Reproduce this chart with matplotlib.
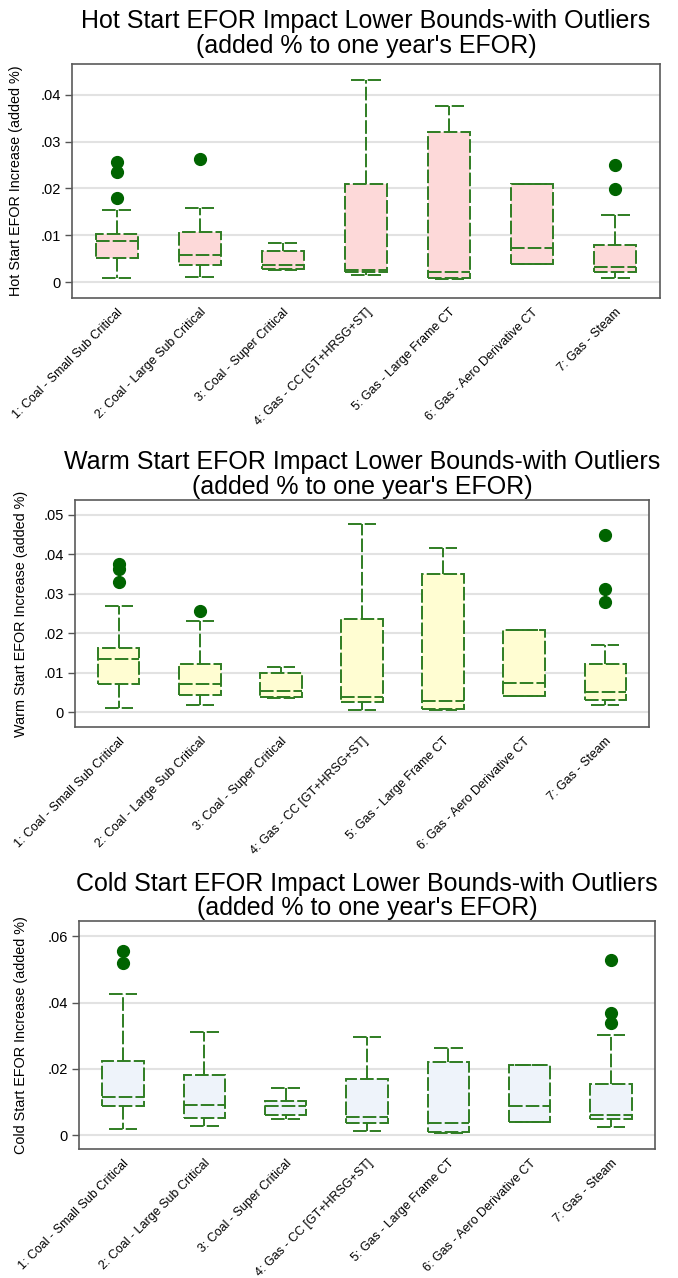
import matplotlib
matplotlib.use("Agg")
import matplotlib.pyplot as plt

plt.rcParams['font.family'] = ['Liberation Sans', 'DejaVu Sans']

categories = [
    "1: Coal - Small Sub Critical",
    "2: Coal - Large Sub Critical",
    "3: Coal - Super Critical",
    "4: Gas - CC [GT+HRSG+ST]",
    "5: Gas - Large Frame CT",
    "6: Gas - Aero Derivative CT",
    "7: Gas - Steam",
]

# hot start
hot_lo = [0.0008, 0.0010, 0.0026, 0.0016, 0.0006, 0.0039, 0.0008]
hot_q1 = [0.0051, 0.0036, 0.0029, 0.0021, 0.0009, 0.0039, 0.0022]
hot_med = [0.0087, 0.0058, 0.0037, 0.0026, 0.0021, 0.0072, 0.0033]
hot_q3 = [0.0102, 0.0107, 0.0067, 0.0210, 0.0320, 0.0209, 0.0079]
hot_hi = [0.0154, 0.0159, 0.0083, 0.0432, 0.0377, 0.0209, 0.0144]
hot_out = [[0.0256, 0.0236, 0.0179], [0.0263], [], [], [], [], [0.0251, 0.0198]]

# warm start
warm_lo = [0.0009, 0.0017, 0.0036, 0.0005, 0.0006, 0.0040, 0.0019]
warm_q1 = [0.0070, 0.0043, 0.0039, 0.0025, 0.0008, 0.0040, 0.0031]
warm_med = [0.0135, 0.0072, 0.0054, 0.0039, 0.0028, 0.0073, 0.0051]
warm_q3 = [0.0162, 0.0122, 0.0098, 0.0236, 0.0351, 0.0208, 0.0121]
warm_hi = [0.0269, 0.0231, 0.0113, 0.0476, 0.0416, 0.0208, 0.0171]
warm_out = [[0.0375, 0.0362, 0.0329], [0.0256], [], [], [], [], [0.0449, 0.0312, 0.0279]]

# cold start
cold_lo = [0.0017, 0.0027, 0.0049, 0.0012, 0.0006, 0.0039, 0.0024]
cold_q1 = [0.0088, 0.0052, 0.0061, 0.0035, 0.0008, 0.0039, 0.0048]
cold_med = [0.0115, 0.0090, 0.0087, 0.0056, 0.0037, 0.0088, 0.0062]
cold_q3 = [0.0224, 0.0182, 0.0104, 0.0168, 0.0222, 0.0211, 0.0155]
cold_hi = [0.0425, 0.0311, 0.0141, 0.0296, 0.0263, 0.0211, 0.0301]
cold_out = [[0.0556, 0.0518], [], [], [], [], [], [0.0528, 0.0367, 0.0339]]

hot_ticks = [0, 0.01, 0.02, 0.03, 0.04]
hot_ticklabels = ["0", ".01", ".02", ".03", ".04"]
warm_ticks = [0, 0.01, 0.02, 0.03, 0.04, 0.05]
warm_ticklabels = ["0", ".01", ".02", ".03", ".04", ".05"]
cold_ticks = [0, 0.02, 0.04, 0.06]
cold_ticklabels = ["0", ".02", ".04", ".06"]

line_col = "#2f7d23"
dot_col = "#006400"
dash = (0, (7, 1.6))

W, H = 678, 1278


def make_stats(lo, q1, med, q3, hi, out):
    stats = []
    for i in range(len(lo)):
        stats.append(dict(whislo=lo[i], q1=q1[i], med=med[i], q3=q3[i],
                          whishi=hi[i], fliers=out[i]))
    return stats


def draw_panel(box_px, stats, fill, ticks, ticklabels, ylim, ylabel, lab_x,
               title, title_y):
    l, r, t, b = box_px
    ax = fig.add_axes([l / W, 1 - b / H, (r - l) / W, (b - t) / H])
    pos = list(range(1, len(stats) + 1))
    ax.bxp(stats, positions=pos, widths=0.51, capwidths=0.35,
           patch_artist=True, showfliers=True,
           boxprops=dict(facecolor=fill, edgecolor=line_col, lw=1.4, linestyle=dash),
           whiskerprops=dict(color=line_col, lw=1.4, linestyle=dash),
           capprops=dict(color=line_col, lw=1.4, linestyle=dash),
           medianprops=dict(color=line_col, lw=1.4, linestyle=dash),
           flierprops=dict(marker='o', markerfacecolor=dot_col,
                           markeredgecolor=dot_col, markersize=8.5))
    ax.set_xlim(0.46, 7.54)
    ax.set_ylim(*ylim)
    ax.set_yticks(ticks)
    ax.set_yticklabels(ticklabels, fontsize=10.5)
    ax.set_xticks(pos)
    ax.set_xticklabels(categories, rotation=45, ha='right',
                       rotation_mode='anchor', fontsize=9)
    ax.tick_params(axis='x', length=0, pad=6)
    ax.tick_params(axis='y', length=5, width=1, color='#555555', pad=3)
    ax.yaxis.grid(True, color='#e2e2e2', lw=1.5)
    ax.set_axisbelow(True)
    for sp in ax.spines.values():
        sp.set_color('#5a5a5a')
        sp.set_linewidth(1.2)
    ax.set_ylabel(ylabel, fontsize=10.4)
    ax.yaxis.set_label_coords((lab_x - l) / (r - l), 0.5)
    # two-line heading centred over the plot region
    cx = (l + r) / 2 / W
    fig.text(cx, 1 - title_y[0] / H, title, fontsize=18,
             ha='center', va='center')
    fig.text(cx, 1 - title_y[1] / H, "(added % to one year's EFOR)",
             fontsize=18, ha='center', va='center')
    return ax


fig = plt.figure(figsize=(W / 100, H / 100), dpi=100)

draw_panel((72, 660, 64, 298),
           make_stats(hot_lo, hot_q1, hot_med, hot_q3, hot_hi, hot_out),
           "#fdd9d9", hot_ticks, hot_ticklabels, (-0.0034, 0.0466),
           "Hot Start EFOR Increase (added %)", 23,
           "Hot Start EFOR Impact Lower Bounds-with Outliers", (21, 46))

draw_panel((75, 649, 500, 727),
           make_stats(warm_lo, warm_q1, warm_med, warm_q3, warm_hi, warm_out),
           "#fffdd2", warm_ticks, warm_ticklabels, (-0.0038, 0.0538),
           "Warm Start EFOR Increase (added %)", 28,
           "Warm Start EFOR Impact Lower Bounds-with Outliers", (462, 487))

draw_panel((79, 655, 921, 1149),
           make_stats(cold_lo, cold_q1, cold_med, cold_q3, cold_hi, cold_out),
           "#eef3fa", cold_ticks, cold_ticklabels, (-0.0042, 0.0646),
           "Cold Start EFOR Increase (added %)", 28,
           "Cold Start EFOR Impact Lower Bounds-with Outliers", (884, 908))

fig.savefig("out.png", dpi=100)
